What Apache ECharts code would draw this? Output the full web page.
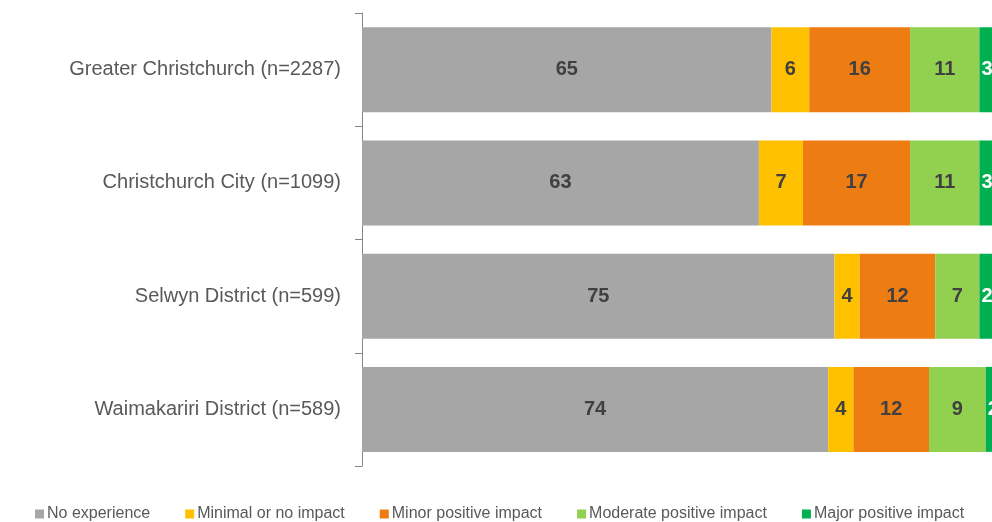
<!DOCTYPE html>
<html>
<head>
<meta charset="utf-8">
<script src="https://cdn.jsdelivr.net/npm/echarts@6/dist/echarts.min.js"></script>
<style>
  html, body { margin: 0; padding: 0; background: #fff; }
  #chart { width: 992px; height: 522px; }
</style>
</head>
<body>
<div id="chart"></div>
<script>
// Regions surveyed, top to bottom
const categories = [
  'Greater Christchurch (n=2287)',
  'Christchurch City (n=1099)',
  'Selwyn District (n=599)',
  'Waimakariri District (n=589)'
];

// Percentage of respondents in each impact group
const noExperience     = [65, 63, 75, 74];
const minimalNoImpact  = [6, 7, 4, 4];
const minorPositive    = [16, 17, 12, 12];
const moderatePositive = [11, 11, 7, 9];
const majorPositive    = [3, 3, 2, 2];

const seriesNames = [
  'No experience',
  'Minimal or no impact',
  'Minor positive impact',
  'Moderate positive impact',
  'Major positive impact'
];
const seriesData = [noExperience, minimalNoImpact, minorPositive, moderatePositive, majorPositive];
const seriesColors = ['#A6A6A6', '#FFC000', '#ED7D12', '#92D050', '#00B050'];

const FONT = '"Liberation Sans", Arial, sans-serif';

const series = seriesData.map((data, i) => {
  const last = i === seriesData.length - 1;
  return {
    name: seriesNames[i],
    type: 'bar',
    stack: 'total',
    barWidth: 85,
    data: data,
    itemStyle: { color: seriesColors[i] },
    label: {
      show: true,
      position: last ? 'insideLeft' : 'inside',
      distance: 2,
      color: last ? '#FFFFFF' : '#404040',
      fontWeight: 'bold',
      fontSize: 20,
      fontFamily: FONT
    },
    emphasis: { disabled: true }
  };
});

const chart = echarts.init(document.getElementById('chart'), null, { renderer: 'canvas' });
chart.setOption({
  animation: false,
  backgroundColor: '#FFFFFF',
  grid: { left: 362, top: 13, width: 634, bottom: 56, containLabel: false },
  xAxis: {
    type: 'value',
    min: 0,
    max: 100,
    show: false
  },
  yAxis: {
    type: 'category',
    data: categories,
    inverse: true,
    axisLine: { show: true, lineStyle: { color: '#868686', width: 1 } },
    axisTick: { show: true, length: 7, lineStyle: { color: '#868686' } },
    axisLabel: {
      margin: 21,
      fontSize: 20,
      color: '#595959',
      fontFamily: FONT,
      padding: [4, 0, 0, 0]
    }
  },
  legend: {
    top: 501,
    left: 30,
    icon: 'rect',
    itemWidth: 9,
    itemHeight: 9,
    itemGap: 35,
    textStyle: { fontSize: 16, color: '#595959', fontFamily: FONT, padding: [0, 0, 0, -2] },
    data: seriesNames
  },
  series: series
});
</script>
</body>
</html>
